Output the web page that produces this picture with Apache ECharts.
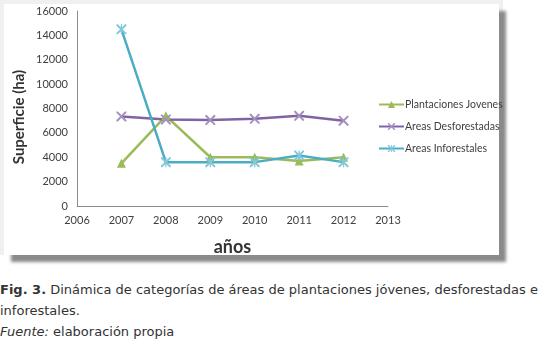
<!DOCTYPE html>
<html>
<head>
<meta charset="utf-8">
<script src="https://cdn.jsdelivr.net/npm/echarts@6/dist/echarts.min.js"></script>
<style>
html,body{margin:0;padding:0;background:#fff;width:545px;height:346px;overflow:hidden;}
#frame{position:absolute;left:0;top:0;width:503px;height:255px;background:#f0f0f0;}
#inner{position:absolute;left:4px;top:4px;width:495px;height:251px;background:#fff;box-shadow:7px 7px 3px #8a8a8a;}
#chart{position:absolute;left:0;top:0;width:545px;height:262px;}
#cap{position:absolute;left:0;top:279px;width:545px;font-family:"DejaVu Sans",Verdana,sans-serif;font-size:13px;color:#333;line-height:21px;white-space:nowrap;}
</style>
</head>
<body>
<div id="frame"></div>
<div id="inner"></div>
<div id="chart"></div>
<div id="cap"><b>Fig. 3.</b> Dinámica de categorías de áreas de plantaciones jóvenes, desforestadas e<br>inforestales.<br><i>Fuente:</i> elaboración propia</div>
<script>
const years = [2007, 2008, 2009, 2010, 2011, 2012];
const plantacionesJovenes = [3500, 7400, 4000, 4000, 3700, 4000];
const areasDesforestadas = [7350, 7100, 7050, 7150, 7400, 7000];
const areasInforestales = [14500, 3600, 3600, 3600, 4150, 3600];
const seriesNames = ['Plantaciones Jovenes', 'Areas Desforestadas', 'Areas Inforestales'];

const xPath = 'path://M0,0 L1.4,0 L10,8.6 L10,10 L8.6,10 L0,1.4 Z M10,0 L10,1.4 L1.4,10 L0,10 L0,8.6 L8.6,0 Z';
const starPath = 'path://M0,0 L1.4,0 L10,8.6 L10,10 L8.6,10 L0,1.4 Z M10,0 L10,1.4 L1.4,10 L0,10 L0,8.6 L8.6,0 Z M4.4,0 L5.6,0 L5.6,10 L4.4,10 Z';

const pair = arr => years.map((y, i) => [y, arr[i]]);
const chart = echarts.init(document.getElementById('chart'));
const font = 'Lato, "Liberation Sans", sans-serif';
chart.setOption({
  backgroundColor: 'transparent',
  animation: false,
  grid: {left: 77, right: 157, top: 11, bottom: 56},
  graphic: [{
    type: 'text', x: 19, y: 117, rotation: Math.PI / 2,
    style: {text: 'Superficie (ha)', fontFamily: font, fontSize: 15, fontWeight: 'bold', fill: '#333',
            align: 'center', verticalAlign: 'middle'}
  }],
  legend: {
    orient: 'vertical', left: 373, top: 94, itemGap: 11, itemWidth: 25, itemHeight: 9,
    textStyle: {fontFamily: font, fontSize: 10.5, color: '#404040', padding: [0, 0, 0, -4]},
    data: seriesNames
  },
  xAxis: {
    type: 'value', min: 2006, max: 2013, interval: 1,
    name: 'años', nameLocation: 'middle', nameGap: 32,
    nameTextStyle: {fontFamily: font, fontSize: 18, fontWeight: 'bold', color: '#333'},
    axisLine: {show: true, lineStyle: {color: '#8c8c8c', width: 1}},
    axisTick: {show: false}, splitLine: {show: false},
    axisLabel: {fontFamily: font, fontSize: 11, color: '#404040', margin: 9, formatter: v => String(v)}
  },
  yAxis: {
    type: 'value', min: 0, max: 16000, interval: 2000,
    axisLine: {show: true, lineStyle: {color: '#8c8c8c', width: 1}},
    axisTick: {show: false}, splitLine: {show: false},
    axisLabel: {fontFamily: font, fontSize: 11, color: '#404040', margin: 9, formatter: v => String(v)}
  },
  series: [
    {name: seriesNames[0], type: 'line', data: pair(plantacionesJovenes), color: '#9bbb59',
     symbol: 'triangle', symbolSize: 9, lineStyle: {width: 2.5}, itemStyle: {color: '#9bbb59'}},
    {name: seriesNames[1], type: 'line', data: pair(areasDesforestadas), color: '#8064a2',
     symbol: xPath, symbolSize: 10, lineStyle: {width: 2.5, color: '#8064a2'}, itemStyle: {color: '#a48fc0'}},
    {name: seriesNames[2], type: 'line', data: pair(areasInforestales), color: '#4bacc6',
     symbol: starPath, symbolSize: 10, lineStyle: {width: 2.5, color: '#4bacc6'}, itemStyle: {color: '#80c8dc'}}
  ]
});
</script>
</body>
</html>
